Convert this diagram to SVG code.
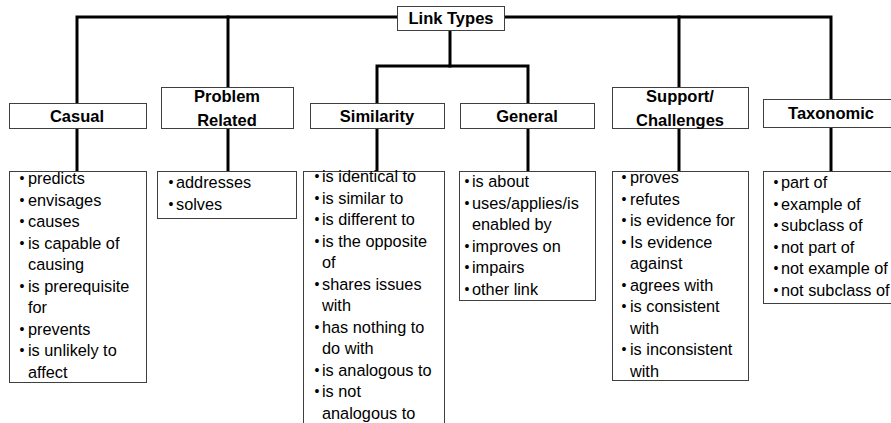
<svg xmlns="http://www.w3.org/2000/svg" width="891" height="423" viewBox="0 0 891 423">
<style>
.bg{fill:#ffffff}
.hbox{fill:#ffffff;stroke:#3f3f3f;stroke-width:1}
.lbox{fill:#ffffff;stroke:#3f3f3f;stroke-width:1}
.conn{fill:none;stroke:#000000;stroke-width:3;stroke-linecap:square}
.ht{font-family:"Liberation Sans",Arial,sans-serif;font-weight:bold;font-size:16.5px;fill:#000;text-anchor:middle}
.lt{font-family:"Liberation Sans",Arial,sans-serif;font-size:16.3px;fill:#000}
.bu{font-family:"Liberation Sans",Arial,sans-serif;font-size:14px;fill:#000;text-anchor:middle}
</style>
<rect class="bg" x="0" y="0" width="891" height="423"/>
<g id="connectors">
<path class="conn" d="M397,17 H77 V103"/>
<path class="conn" d="M228,17 V87"/>
<path class="conn" d="M504,17 H831 V99"/>
<path class="conn" d="M679,17 V87"/>
<path class="conn" d="M450,30 V66 H377 V103"/>
<path class="conn" d="M450,66 H528 V103"/>
<path class="conn" d="M77,128 V171"/>
<path class="conn" d="M228,128 V171"/>
<path class="conn" d="M377,128 V171"/>
<path class="conn" d="M528,128 V171"/>
<path class="conn" d="M679,128 V171"/>
<path class="conn" d="M831,127 V171"/>
</g>
<g id="root">
<rect class="hbox" x="397.5" y="6.5" width="107" height="24"/>
<text class="ht" x="451" y="24">Link Types</text>
</g>
<g id="casual">
<rect class="hbox" x="9.5" y="103.5" width="137" height="25"/>
<text class="ht" x="77" y="122">Casual</text>
</g>
<g id="problem">
<rect class="hbox" x="161.5" y="87.5" width="132" height="41"/>
<text class="ht" x="227" y="102">Problem</text>
<text class="ht" x="227" y="126">Related</text>
</g>
<g id="similarity">
<rect class="hbox" x="310.5" y="103.5" width="134" height="25"/>
<text class="ht" x="377" y="122">Similarity</text>
</g>
<g id="general">
<rect class="hbox" x="460.5" y="103.5" width="134" height="25"/>
<text class="ht" x="527" y="122">General</text>
</g>
<g id="support">
<rect class="hbox" x="612.5" y="87.5" width="136" height="41"/>
<text class="ht" x="680" y="102">Support/</text>
<text class="ht" x="680" y="126">Challenges</text>
</g>
<g id="taxonomic">
<rect class="hbox" x="763.5" y="99.5" width="135" height="28"/>
<text class="ht" x="831" y="119">Taxonomic</text>
</g>
<g id="casual-list">
<rect class="lbox" x="9.5" y="171.5" width="137" height="211"/>
<text class="bu" x="22" y="183">•</text><text class="lt" x="28" y="184">predicts</text>
<text class="bu" x="22" y="204.5">•</text><text class="lt" x="28" y="205.5">envisages</text>
<text class="bu" x="22" y="226">•</text><text class="lt" x="28" y="227">causes</text>
<text class="bu" x="22" y="247.5">•</text><text class="lt" x="28" y="248.5">is capable of</text>
<text class="lt" x="28" y="270">causing</text>
<text class="bu" x="22" y="290.5">•</text><text class="lt" x="28" y="291.5">is prerequisite</text>
<text class="lt" x="28" y="313">for</text>
<text class="bu" x="22" y="333.5">•</text><text class="lt" x="28" y="334.5">prevents</text>
<text class="bu" x="22" y="355">•</text><text class="lt" x="28" y="356">is unlikely to</text>
<text class="lt" x="28" y="377.5">affect</text>
</g>
<g id="problem-list">
<rect class="lbox" x="157.5" y="171.5" width="139" height="47"/>
<text class="bu" x="171" y="187">•</text><text class="lt" x="176" y="188">addresses</text>
<text class="bu" x="171" y="208.5">•</text><text class="lt" x="176" y="209.5">solves</text>
</g>
<g id="similarity-list">
<rect class="lbox" x="303.5" y="171.5" width="141" height="260"/>
<text class="bu" x="317" y="181">•</text><text class="lt" x="322" y="182">is identical to</text>
<text class="bu" x="317" y="202.5">•</text><text class="lt" x="322" y="203.5">is similar to</text>
<text class="bu" x="317" y="224">•</text><text class="lt" x="322" y="225">is different to</text>
<text class="bu" x="317" y="245.5">•</text><text class="lt" x="322" y="246.5">is the opposite</text>
<text class="lt" x="322" y="268">of</text>
<text class="bu" x="317" y="288.5">•</text><text class="lt" x="322" y="289.5">shares issues</text>
<text class="lt" x="322" y="311">with</text>
<text class="bu" x="317" y="331.5">•</text><text class="lt" x="322" y="332.5">has nothing to</text>
<text class="lt" x="322" y="354">do with</text>
<text class="bu" x="317" y="374.5">•</text><text class="lt" x="322" y="375.5">is analogous to</text>
<text class="bu" x="317" y="396">•</text><text class="lt" x="322" y="397">is not</text>
<text class="lt" x="322" y="418.5">analogous to</text>
</g>
<g id="general-list">
<rect class="lbox" x="459.5" y="171.5" width="136" height="129"/>
<text class="bu" x="467" y="186">•</text><text class="lt" x="472" y="187">is about</text>
<text class="bu" x="467" y="207.5">•</text><text class="lt" x="472" y="208.5">uses/applies/is</text>
<text class="lt" x="472" y="230">enabled by</text>
<text class="bu" x="467" y="250.5">•</text><text class="lt" x="472" y="251.5">improves on</text>
<text class="bu" x="467" y="272">•</text><text class="lt" x="472" y="273">impairs</text>
<text class="bu" x="467" y="293.5">•</text><text class="lt" x="472" y="294.5">other link</text>
</g>
<g id="support-list">
<rect class="lbox" x="612.5" y="171.5" width="136" height="209"/>
<text class="bu" x="624" y="182">•</text><text class="lt" x="630" y="183">proves</text>
<text class="bu" x="624" y="203.5">•</text><text class="lt" x="630" y="204.5">refutes</text>
<text class="bu" x="624" y="225">•</text><text class="lt" x="630" y="226">is evidence for</text>
<text class="bu" x="624" y="246.5">•</text><text class="lt" x="630" y="247.5">Is evidence</text>
<text class="lt" x="630" y="269">against</text>
<text class="bu" x="624" y="289.5">•</text><text class="lt" x="630" y="290.5">agrees with</text>
<text class="bu" x="624" y="311">•</text><text class="lt" x="630" y="312">is consistent</text>
<text class="lt" x="630" y="333.5">with</text>
<text class="bu" x="624" y="354">•</text><text class="lt" x="630" y="355">is inconsistent</text>
<text class="lt" x="630" y="376.5">with</text>
</g>
<g id="taxonomic-list">
<rect class="lbox" x="763.5" y="171.5" width="135" height="132"/>
<text class="bu" x="776" y="187">•</text><text class="lt" x="781" y="188">part of</text>
<text class="bu" x="776" y="208.5">•</text><text class="lt" x="781" y="209.5">example of</text>
<text class="bu" x="776" y="230">•</text><text class="lt" x="781" y="231">subclass of</text>
<text class="bu" x="776" y="251.5">•</text><text class="lt" x="781" y="252.5">not part of</text>
<text class="bu" x="776" y="273">•</text><text class="lt" x="781" y="274">not example of</text>
<text class="bu" x="776" y="294.5">•</text><text class="lt" x="781" y="295.5">not subclass of</text>
</g>
</svg>
